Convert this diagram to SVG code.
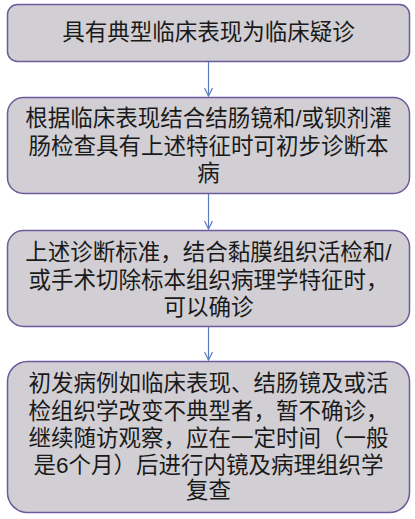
<svg xmlns="http://www.w3.org/2000/svg" width="415" height="519" viewBox="0 0 415 519">
<defs>
<style>
.box{fill:#d1cfd4;stroke:#6e5a9e;stroke-width:1.5}
.t{font-family:"Liberation Sans","Noto Sans CJK SC",sans-serif;font-size:22.5px;fill:#1a1a1a;text-anchor:middle}
.c{stroke:#5b7bbf;stroke-width:1.2;fill:none}
</style>
<marker id="ah" viewBox="0 0 10 10" refX="9" refY="5" markerWidth="10" markerHeight="10" markerUnits="userSpaceOnUse" orient="auto">
<path d="M1,1 L9,5 L1,9" fill="none" stroke="#5b7bbf" stroke-width="1.2"/>
</marker>
</defs>
<rect width="415" height="519" fill="#ffffff"/>
<g id="connectors">
<line class="c" x1="208.5" y1="62" x2="208.5" y2="96" marker-end="url(#ah)"/>
<line class="c" x1="208.5" y1="193" x2="208.5" y2="229" marker-end="url(#ah)"/>
<line class="c" x1="208.5" y1="327" x2="208.5" y2="360" marker-end="url(#ah)"/>
</g>
<g id="node1">
<rect class="box" x="7.5" y="4.5" width="402" height="57" rx="10"/>
<text class="t" x="208.5" y="40">具有典型临床表现为临床疑诊</text>
</g>
<g id="node2">
<rect class="box" x="7.5" y="97.5" width="402" height="96" rx="16"/>
<text class="t" x="208.5" y="126">根据临床表现结合结肠镜和/或钡剂灌</text>
<text class="t" x="208.5" y="154">肠检查具有上述特征时可初步诊断本</text>
<text class="t" x="208.5" y="181">病</text>
</g>
<g id="node3">
<rect class="box" x="7.5" y="230.5" width="402" height="96" rx="16"/>
<text class="t" x="208.5" y="260">上述诊断标准，结合黏膜组织活检和/</text>
<text class="t" x="208.5" y="288">或手术切除标本组织病理学特征时，</text>
<text class="t" x="208.5" y="315">可以确诊</text>
</g>
<g id="node4">
<rect class="box" x="7.5" y="361.5" width="402" height="151" rx="20"/>
<text class="t" x="208.5" y="391">初发病例如临床表现、结肠镜及或活</text>
<text class="t" x="208.5" y="419">检组织学改变不典型者，暂不确诊，</text>
<text class="t" x="208.5" y="446">继续随访观察，应在一定时间（一般</text>
<text class="t" x="208.5" y="473">是6个月）后进行内镜及病理组织学</text>
<text class="t" x="208.5" y="498">复查</text>
</g>
</svg>
